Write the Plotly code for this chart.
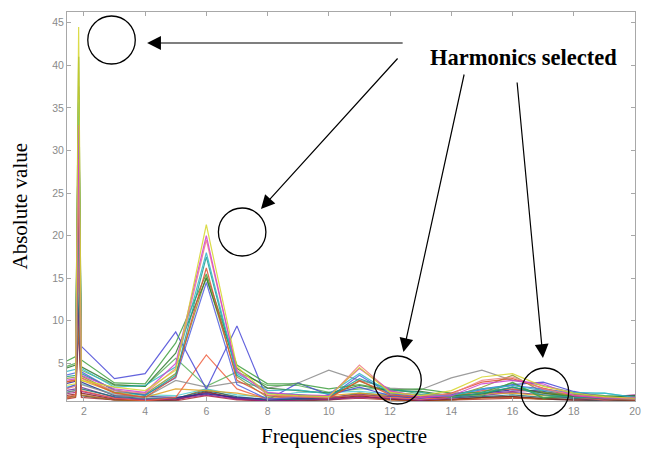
import plotly.graph_objects as go

# x positions of the spectrum samples (the narrow spike sits just left of 2)
freq = [1.4, 1.73, 1.83, 1.92, 3, 4, 5, 6, 7, 8, 9, 10, 11, 12, 13, 14, 15, 16, 17, 18, 19, 20]

s01_yellow = [2.4, 2.6, 44.5, 3.0, 2.2, 1.8, 4.2, 21.3, 4.6, 1.4, 1.2, 1.1, 4.5, 1.6, 1.2, 1.8, 3.4, 3.8, 2.3, 1.5, 1.1, 0.9]
s02_magenta = [3.0, 3.2, 33.0, 3.6, 2.0, 1.6, 5.0, 20.0, 4.0, 1.6, 1.3, 1.2, 4.4, 1.8, 1.0, 1.2, 2.6, 3.0, 2.6, 1.2, 0.9, 1.0]
s03_salmon = [2.0, 2.3, 29.0, 3.2, 1.8, 1.5, 4.4, 19.5, 4.2, 1.3, 1.1, 1.0, 4.8, 1.7, 1.2, 1.4, 3.0, 3.4, 2.0, 1.3, 1.0, 0.8]
s04_cyan = [4.0, 4.3, 36.0, 4.4, 2.2, 2.4, 4.6, 18.0, 3.8, 1.8, 1.9, 1.4, 3.8, 1.6, 1.3, 1.2, 2.0, 2.4, 1.8, 1.6, 1.5, 1.0]
s05_teal = [3.4, 3.6, 31.0, 3.8, 1.9, 1.2, 3.6, 17.5, 3.6, 1.5, 1.3, 1.1, 3.2, 1.9, 1.6, 1.0, 1.5, 2.2, 1.3, 1.0, 0.9, 0.8]
s06_red = [2.8, 3.0, 27.0, 3.3, 1.5, 1.0, 3.4, 16.2, 3.0, 1.2, 1.1, 0.9, 3.0, 1.3, 1.0, 1.5, 2.8, 3.2, 2.1, 1.2, 0.9, 0.8]
s07_green = [5.2, 5.8, 36.5, 5.4, 2.7, 2.6, 7.4, 15.5, 4.8, 2.6, 2.6, 2.0, 2.5, 1.9, 2.0, 1.5, 1.6, 2.7, 0.9, 1.3, 1.1, 0.9]
s08_darkgreen = [4.4, 4.8, 41.0, 4.6, 2.5, 2.3, 6.2, 15.0, 4.4, 2.1, 1.8, 1.5, 2.4, 1.8, 1.7, 1.2, 1.4, 2.2, 1.5, 1.1, 1.0, 1.2]
s09_blue = [3.6, 3.9, 37.5, 4.0, 1.8, 1.3, 3.3, 14.5, 2.5, 0.8, 1.0, 1.0, 3.6, 1.4, 1.1, 1.3, 1.9, 2.4, 2.0, 1.5, 1.0, 0.9]
s10_olive = [3.2, 3.4, 34.0, 3.5, 1.6, 1.4, 3.8, 15.2, 3.4, 1.0, 1.3, 1.0, 2.9, 1.5, 1.3, 1.1, 2.2, 3.6, 1.6, 1.3, 1.0, 1.0]
s11_bluev = [2.0, 2.5, 25.0, 7.0, 3.2, 3.8, 8.7, 2.0, 9.4, 0.7, 2.7, 1.3, 2.2, 1.2, 0.9, 1.3, 2.0, 2.5, 2.8, 1.7, 1.0, 1.2]
s12_gray = [1.5, 1.8, 20.0, 2.5, 1.3, 1.0, 3.0, 2.2, 2.8, 2.1, 2.7, 4.2, 3.0, 2.1, 1.9, 3.3, 4.2, 3.0, 2.4, 1.6, 1.2, 1.0]
s13_orange = [1.0, 1.3, 18.0, 1.8, 0.9, 0.6, 1.0, 6.0, 2.0, 0.8, 1.2, 1.0, 1.3, 1.0, 0.8, 1.0, 1.8, 2.0, 1.5, 1.0, 0.7, 0.8]
s14_lightgreen = [4.6, 5.0, 22.0, 4.2, 2.4, 2.3, 5.6, 2.3, 4.0, 2.4, 2.4, 1.6, 2.0, 2.0, 1.4, 1.3, 1.2, 2.8, 1.0, 1.4, 1.2, 1.1]
s15_darkred = [1.2, 1.4, 15.0, 1.5, 0.8, 0.7, 0.7, 1.7, 0.8, 0.6, 0.7, 0.8, 1.2, 0.8, 0.6, 0.8, 1.0, 1.1, 0.9, 0.7, 0.8, 0.7]
s16_purple = [1.8, 2.0, 12.0, 2.2, 1.0, 0.8, 0.9, 1.5, 0.9, 0.7, 0.8, 0.9, 1.4, 0.9, 0.7, 0.9, 1.2, 1.6, 1.3, 0.9, 0.7, 1.1]
s17_brown = [0.9, 1.1, 10.0, 1.3, 0.7, 0.6, 0.8, 2.0, 0.9, 0.6, 0.8, 0.9, 1.1, 0.7, 0.6, 0.7, 0.9, 1.0, 0.8, 1.0, 0.8, 0.7]
s18_navy = [2.6, 2.9, 28.0, 2.8, 1.2, 1.1, 1.0, 1.4, 1.0, 0.8, 0.9, 1.0, 1.3, 1.1, 0.9, 1.1, 1.5, 1.9, 1.7, 1.1, 0.9, 0.8]
s19_lightcyan = [2.2, 2.4, 16.0, 2.6, 1.4, 1.3, 1.2, 2.0, 1.3, 1.0, 1.6, 1.6, 1.7, 1.4, 1.2, 1.3, 1.7, 2.0, 1.6, 1.3, 1.5, 1.0]
s20_plum = [1.4, 1.6, 13.0, 1.7, 0.9, 0.7, 0.8, 1.3, 0.8, 0.6, 0.7, 0.8, 1.0, 0.9, 0.7, 1.0, 1.4, 1.7, 1.9, 1.2, 1.0, 1.3]
s21_black = [1.0, 1.2, 11.0, 1.2, 0.7, 0.6, 0.7, 1.6, 0.9, 0.6, 0.7, 0.7, 1.1, 0.8, 0.6, 0.7, 1.0, 1.1, 0.8, 0.7, 0.6, 0.7]
s22_amber = [2.8, 3.1, 23.0, 3.0, 1.6, 1.0, 2.0, 1.8, 1.5, 0.9, 1.0, 1.2, 1.5, 1.2, 1.0, 1.2, 1.4, 1.5, 1.2, 1.4, 1.1, 0.9]
s23_darkteal = [1.6, 1.8, 14.0, 2.0, 1.1, 0.9, 0.9, 1.8, 1.1, 0.7, 0.8, 0.9, 1.5, 1.2, 1.0, 1.0, 1.1, 1.3, 1.0, 0.9, 0.8, 0.9]
s24_redbrown = [0.8, 1.0, 9.0, 1.0, 0.7, 0.6, 0.6, 1.2, 0.7, 0.6, 0.6, 0.7, 0.9, 0.7, 0.6, 0.7, 0.8, 0.9, 0.8, 0.7, 0.7, 0.6]

x_ticks = [2, 4, 6, 8, 10, 12, 14, 16, 18, 20]
y_ticks = [5, 10, 15, 20, 25, 30, 35, 40, 45]

series = [
    (s24_redbrown, "#b03030"), (s21_black, "#404040"), (s17_brown, "#c07020"),
    (s15_darkred, "#8b2020"), (s20_plum, "#a0208a"), (s16_purple, "#7030a0"),
    (s23_darkteal, "#207070"), (s19_lightcyan, "#50d0d0"), (s18_navy, "#2a2a90"),
    (s22_amber, "#e0a020"), (s13_orange, "#f06040"), (s12_gray, "#8c8c8c"),
    (s14_lightgreen, "#5ab05a"), (s11_bluev, "#4848d8"),
    (s10_olive, "#8c9a30"), (s09_blue, "#5060e0"), (s08_darkgreen, "#2f7a2f"),
    (s07_green, "#40a040"), (s06_red, "#e05030"), (s05_teal, "#20a090"),
    (s04_cyan, "#30b8c8"), (s03_salmon, "#f08080"), (s02_magenta, "#d040d0"),
    (s01_yellow, "#d6d62a"),
]

fig = go.Figure()
for vals, col in series:
    fig.add_trace(go.Scatter(x=freq, y=vals, mode="lines",
                             line=dict(color=col, width=1.2), opacity=0.85,
                             showlegend=False, hoverinfo="skip"))

# plot-area pixel geometry
L, R, T, B = 67, 641, 12, 401
W, H = R - L, B - T


def px(x):
    return (x - L) / W


def py(y):
    return (B - y) / H


tick_font = dict(family="Liberation Sans, Arial", size=10.5, color="#8a8a8a")
axis_common = dict(showline=True, linecolor="#a8a8a8", linewidth=1, mirror="ticks",
                   ticks="inside", ticklen=4, tickcolor="#a8a8a8", showgrid=False,
                   zeroline=False, tickfont=tick_font, ticklabeloverflow="allow")

fig.update_xaxes(range=[1.45, 20], tickvals=x_ticks, **axis_common)
fig.update_yaxes(range=[0.58, 46.26], tickvals=y_ticks, **axis_common)

serif = "Liberation Serif, Times New Roman, serif"
title_font = dict(family=serif, size=21, color="black")
annotations = [
    dict(x=px(20), y=py(206), xref="paper", yref="paper", text="Absolute value",
         textangle=-90, showarrow=False, xanchor="center", yanchor="middle", font=title_font),
    dict(x=px(347), y=py(436), xref="paper", yref="paper", text="Frequencies spectre",
         showarrow=False, xanchor="center", yanchor="middle", font=title_font),
    dict(x=px(528), y=py(57), xref="paper", yref="paper", text="<b>Harmonics selected</b>",
         showarrow=False, xanchor="center", yanchor="middle",
         font=dict(family=serif, size=22.5, color="black")),
]
arrows = [((148, 43), (405, 43)), ((263, 209), (401, 57)),
          ((407, 352), (468, 73)), ((548, 358), (522, 81))]
for (hx, hy), (tx, ty) in arrows:
    annotations.append(dict(x=px(hx), y=py(hy), xref="paper", yref="paper", text="",
                            showarrow=True, ax=tx - hx, ay=ty - hy, arrowhead=2,
                            arrowsize=2.3, arrowwidth=1.2, arrowcolor="black"))

circles = [(112, 40), (244, 232), (401, 380), (550, 392)]
shapes = []
for cx, cy in circles:
    r = 24
    shapes.append(dict(type="circle", xref="paper", yref="paper",
                       x0=px(cx - r), x1=px(cx + r), y0=py(cy + r), y1=py(cy - r),
                       line=dict(color="black", width=1.3), layer="above"))

fig.update_layout(width=646, height=455, margin=dict(l=L, r=646 - R, t=T, b=455 - B),
                  paper_bgcolor="white", plot_bgcolor="white",
                  annotations=annotations, shapes=shapes)

fig.write_html("out.html")
